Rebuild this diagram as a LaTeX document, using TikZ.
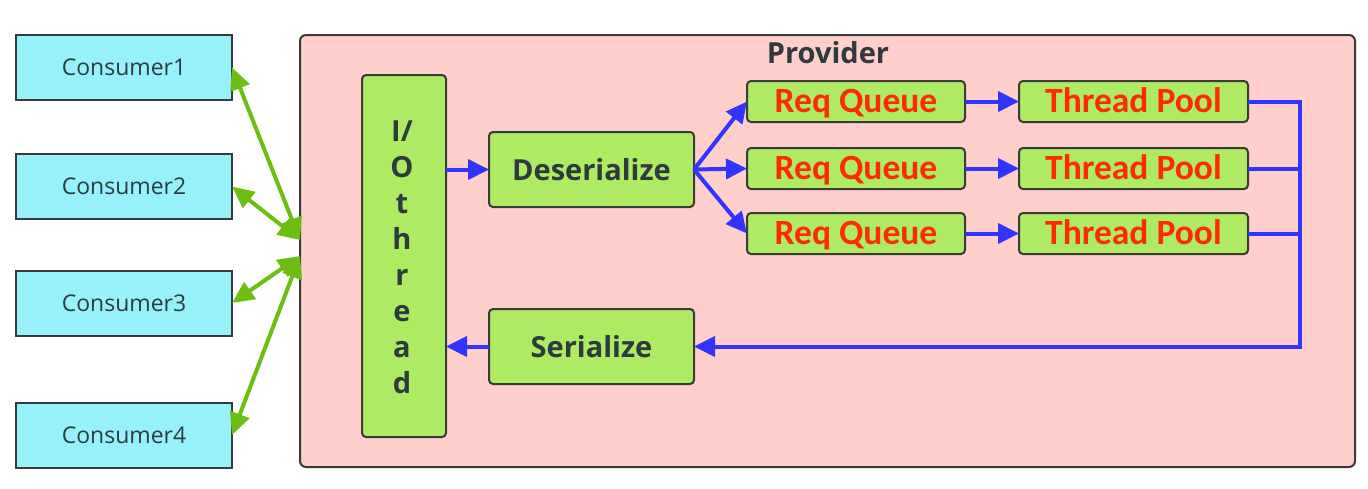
\documentclass[tikz,border=0pt]{standalone}
\usepackage{fontspec}
\setmainfont{Open Sans}
\newfontfamily\calib{Carlito}
\usetikzlibrary{arrows.meta}
\definecolor{cyanbox}{HTML}{97F1F9}
\definecolor{provfill}{HTML}{FFCFCB}
\definecolor{greenbox}{HTML}{AEEA62}
\definecolor{bordergray}{HTML}{3A3A3A}
\definecolor{bluel}{HTML}{3333FF}
\definecolor{greenl}{HTML}{6CBF12}
\definecolor{redtxt}{HTML}{FF2A00}
\definecolor{txtgray}{HTML}{2E3A3E}
\begin{document}
\begin{tikzpicture}[x=1pt,y=-1pt,
  cons/.style={draw=bordergray,line width=2pt,fill=cyanbox,minimum width=216pt,minimum height=65pt,inner sep=0pt,outer sep=0pt,text=txtgray,font=\fontsize{23}{26}\selectfont},
  gbox/.style={draw=bordergray,line width=2pt,fill=greenbox,rounded corners=4pt,inner sep=0pt,outer sep=0pt},
  bigtxt/.style={font=\bfseries\fontsize{29}{32}\selectfont,text=txtgray},
  redlbl/.style={font=\calib\bfseries\fontsize{35.5}{38}\selectfont,text=redtxt,text depth=0pt},
  bl/.style={draw=bluel,line width=4pt},
  ba/.style={bl,-{Triangle[length=21pt,width=20pt]}},
  ga/.style={draw=greenl,line width=4pt,{Triangle[length=22pt,width=20pt]}-{Triangle[length=22pt,width=20pt]}}
]
\useasboundingbox (0,0) rectangle (1368,488);
\fill[white] (0,0) rectangle (1368,488);
% provider
\node[draw=bordergray,line width=2pt,fill=provfill,rounded corners=6pt,minimum width=1055pt,minimum height=432pt,inner sep=0pt,outer sep=0pt] (prov) at (827.5,251) {};
\node[font=\bfseries\fontsize{29}{32}\selectfont,text=txtgray] (provt) at (828,53) {Provider};
% consumers
\node[cons] (c1) at (124,67.5) {Consumer1};
\node[cons] (c2) at (124,186.5) {Consumer2};
\node[cons] (c3) at (124,303) {Consumer3};
\node[cons] (c4) at (124,435) {Consumer4};
% io thread
\node[gbox,minimum width=84pt,minimum height=362pt] (io) at (404,256) {};
\node[align=center,text=txtgray,font=\bfseries\fontsize{29}{36}\selectfont] (iot) at (402,257) {I/\\O\\t\\h\\r\\e\\a\\d};
% deserialize / serialize
\node[gbox,bigtxt,minimum width=205pt,minimum height=75pt] (des) at (591.5,169.5) {Deserialize};
\node[gbox,bigtxt,minimum width=205pt,minimum height=75pt] (ser) at (591.5,346.5) {Serialize};
% queues and pools
\foreach \i/\y in {1/101.5,2/168.5,3/233.5}{
  \node[gbox,minimum width=218pt,minimum height=41pt] (rq\i) at (856,\y) {};
  \node[redlbl] at ([yshift=1pt]rq\i.center) {Req Queue};
  \node[gbox,minimum width=229pt,minimum height=41pt] (tp\i) at (1133.5,\y) {};
  \node[redlbl] at ([yshift=1pt]tp\i.center) {Thread Pool};
}
% green arrows
\coordinate (pa) at (300,240);
\coordinate (pb) at (300,256);
\draw[ga] (c1.east) -- (pa);
\draw[ga] (c2.east) -- (pa);
\draw[ga] (c3.east) -- (pb);
\draw[ga] (c4.east) -- (pb);
% blue arrows
\draw[ba] (io.east |- des.west) -- (des.west);
\draw[ba] (des.east) -- (rq1.west);
\draw[ba] (des.east) -- (rq2.west);
\draw[ba] (des.east) -- (rq3.west);
\foreach \i in {1,2,3}{ \draw[ba] (rq\i.east) -- (tp\i.west); }
\coordinate (j1) at (1300,101.5);
\coordinate (jb) at (1300,346.5);
\draw[ba] (tp1.east) -- (j1) -- (jb) -- (ser.east);
\draw[bl] (tp2.east) -- (tp2.east -| j1);
\draw[bl] (tp3.east) -- (tp3.east -| j1);
\draw[ba] (ser.west) -- (io.east |- ser.west);
\end{tikzpicture}
\end{document}
